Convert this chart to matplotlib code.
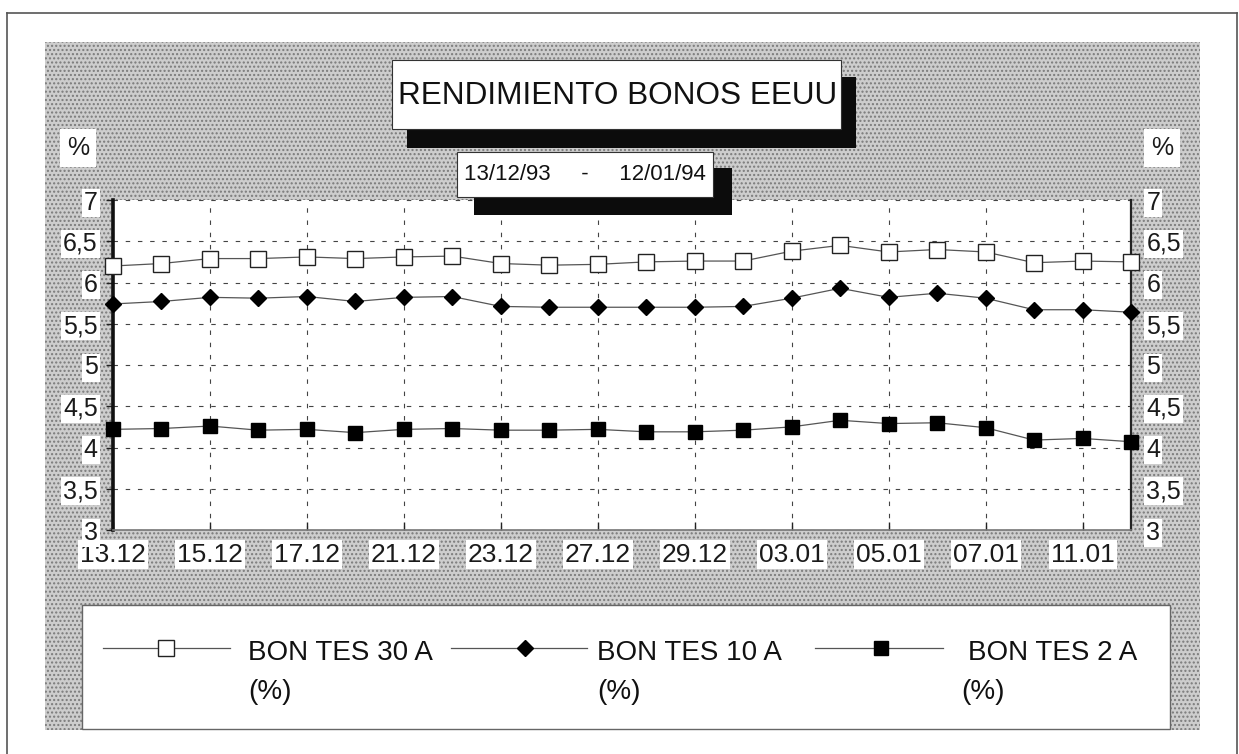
import matplotlib
matplotlib.use("Agg")
import matplotlib.pyplot as plt
from matplotlib.patches import Rectangle
from matplotlib.lines import Line2D

plt.rcParams['font.family'] = ['Liberation Sans', 'DejaVu Sans']

# ---------------- data ----------------
dates = ["13.12", "14.12", "15.12", "16.12", "17.12", "20.12", "21.12", "22.12",
         "23.12", "24.12", "27.12", "28.12", "29.12", "30.12", "03.01", "04.01",
         "05.01", "06.01", "07.01", "10.01", "11.01", "12.01"]
bon30 = [6.20, 6.23, 6.29, 6.29, 6.31, 6.29, 6.31, 6.32, 6.23, 6.21, 6.22,
         6.25, 6.26, 6.26, 6.38, 6.45, 6.37, 6.40, 6.37, 6.24, 6.26, 6.25]
bon10 = [5.74, 5.77, 5.82, 5.81, 5.83, 5.77, 5.82, 5.83, 5.71, 5.70, 5.70,
         5.70, 5.70, 5.71, 5.81, 5.93, 5.82, 5.87, 5.81, 5.67, 5.67, 5.64]
bon2 = [4.22, 4.23, 4.26, 4.21, 4.22, 4.18, 4.22, 4.23, 4.21, 4.21, 4.22,
        4.19, 4.19, 4.21, 4.25, 4.33, 4.29, 4.30, 4.24, 4.09, 4.11, 4.07]
series_labels = ["BON TES 30 A", "BON TES 10 A", "BON TES 2 A"]
yticks = [3, 3.5, 4, 4.5, 5, 5.5, 6, 6.5, 7]
ytick_labels = ["3", "3,5", "4", "4,5", "5", "5,5", "6", "6,5", "7"]
title = "RENDIMIENTO BONOS EEUU"
subtitle = "13/12/93     -     12/01/94"

W, H = 1239, 754
fig = plt.figure(figsize=(W / 100, H / 100), dpi=100)
fig.patch.set_facecolor("white")


def fx(x):
    return x / W


def fy(y):
    return 1 - y / H


def rect(x0, y0, x1, y1, **kw):
    r = Rectangle((fx(x0), fy(y1)), fx(x1) - fx(x0), fy(y0) - fy(y1),
                  transform=fig.transFigure, **kw)
    fig.add_artist(r)
    return r


# outer frame
for xs, ys in [((7, 7), (13, 754)), ((7, 1237), (13, 13)), ((1237, 1237), (13, 754))]:
    fig.add_artist(Line2D([fx(v) for v in xs], [fy(v) for v in ys],
                          transform=fig.transFigure, color="#555555", lw=1.2))

# stippled background
rect(45, 42, 1200, 730, facecolor="#cdcdcd", edgecolor="#7a7a7a",
     hatch="....", linewidth=0, zorder=-2)

# ---------------- plot area ----------------
ax = fig.add_axes([fx(113), fy(530), fx(1131) - fx(113), fy(200) - fy(530)])
ax.set_facecolor("white")
x = list(range(len(dates)))
line_col = "#555555"
ax.plot(x, bon30, color=line_col, lw=0.9, marker="s", ms=11.5,
        mfc="white", mec="#222222", mew=1.0, zorder=5, clip_on=False)
ax.plot(x, bon10, color=line_col, lw=0.9, marker="D", ms=8,
        mfc="black", mec="black", zorder=5, clip_on=False)
ax.plot(x, bon2, color=line_col, lw=0.9, marker="s", ms=10,
        mfc="black", mec="black", zorder=5, clip_on=False)

ax.set_xlim(0, len(dates) - 1)
ax.set_ylim(3, 7)
ax.set_xticks(x[::2])
ax.set_xticklabels(dates[::2])
ax.set_yticks(yticks)
ax.set_yticklabels(ytick_labels)

ax.grid(True, color="#444444", lw=0.8, linestyle=(0, (4, 7)))
ax.set_axisbelow(True)

ax.spines["left"].set_linewidth(2.6)
ax.spines["left"].set_color("#111111")
ax.spines["right"].set_linewidth(1.6)
ax.spines["right"].set_color("#222222")
ax.spines["bottom"].set_linewidth(1.2)
ax.spines["bottom"].set_color("#777777")
ax.spines["top"].set_visible(False)

ax.tick_params(axis="y", which="both", left=True, right=False,
               labelleft=True, labelright=True, direction="out",
               length=5, width=1, pad=6, labelsize=18, colors="#222222")
ax.tick_params(axis="x", direction="in", length=6, width=1, pad=9,
               labelsize=19, colors="#222222")
for lab in ax.get_xticklabels() + ax.get_yticklabels():
    lab.set_bbox(dict(facecolor="white", edgecolor="none", pad=1.5))
    lab.set_color("#1a1a1a")

# "%" labels
for xc in (78, 1162):
    fig.text(fx(xc), fy(148), "%", fontsize=18, ha="center", va="center",
             color="#1a1a1a",
             bbox=dict(facecolor="white", edgecolor="none", pad=5))

# ---------------- title boxes ----------------
rect(407, 77, 856, 148, facecolor="#0c0c0c", edgecolor="none", zorder=3)
rect(392, 60, 841, 129, facecolor="white", edgecolor="#333333", lw=0.8, zorder=4)
fig.text(fx(618), fy(96), title, fontsize=22.7, ha="center", va="center",
         color="#111111", zorder=5)

rect(474, 168, 732, 215, facecolor="#0c0c0c", edgecolor="none", zorder=3)
rect(457, 152, 713, 197, facecolor="white", edgecolor="#333333", lw=0.8, zorder=4)
fig.text(fx(585), fy(175), subtitle, fontsize=16, ha="center", va="center",
         color="#111111", zorder=5)

# ---------------- legend ----------------
rect(82, 605, 1170, 729, facecolor="white", edgecolor="#666666", lw=1.0, zorder=3)
handles = [
    dict(x0=103, x1=230, xm=166, marker="s", ms=11.5, mfc="white", mec="#222222", tx=248, px=248),
    dict(x0=451, x1=587, xm=525, marker="D", ms=8, mfc="black", mec="black", tx=597, px=597),
    dict(x0=815, x1=943, xm=881, marker="s", ms=10, mfc="black", mec="black", tx=968, px=961),
]
for h, lab in zip(handles, series_labels):
    fig.add_artist(Line2D([fx(h["x0"]), fx(h["x1"])], [fy(648), fy(648)],
                          transform=fig.transFigure, color=line_col, lw=0.9, zorder=4))
    fig.add_artist(Line2D([fx(h["xm"])], [fy(648)], transform=fig.transFigure,
                          marker=h["marker"], ms=h["ms"], mfc=h["mfc"], mec=h["mec"],
                          mew=1.0, lw=0, zorder=5))
    fig.text(fx(h["tx"]), fy(660), lab, fontsize=20, ha="left", va="baseline",
             color="#111111", zorder=5)
    fig.text(fx(h["px"]), fy(699), "(%)", fontsize=20, ha="left", va="baseline",
             color="#111111", zorder=5)

fig.savefig("out.png", dpi=100)
